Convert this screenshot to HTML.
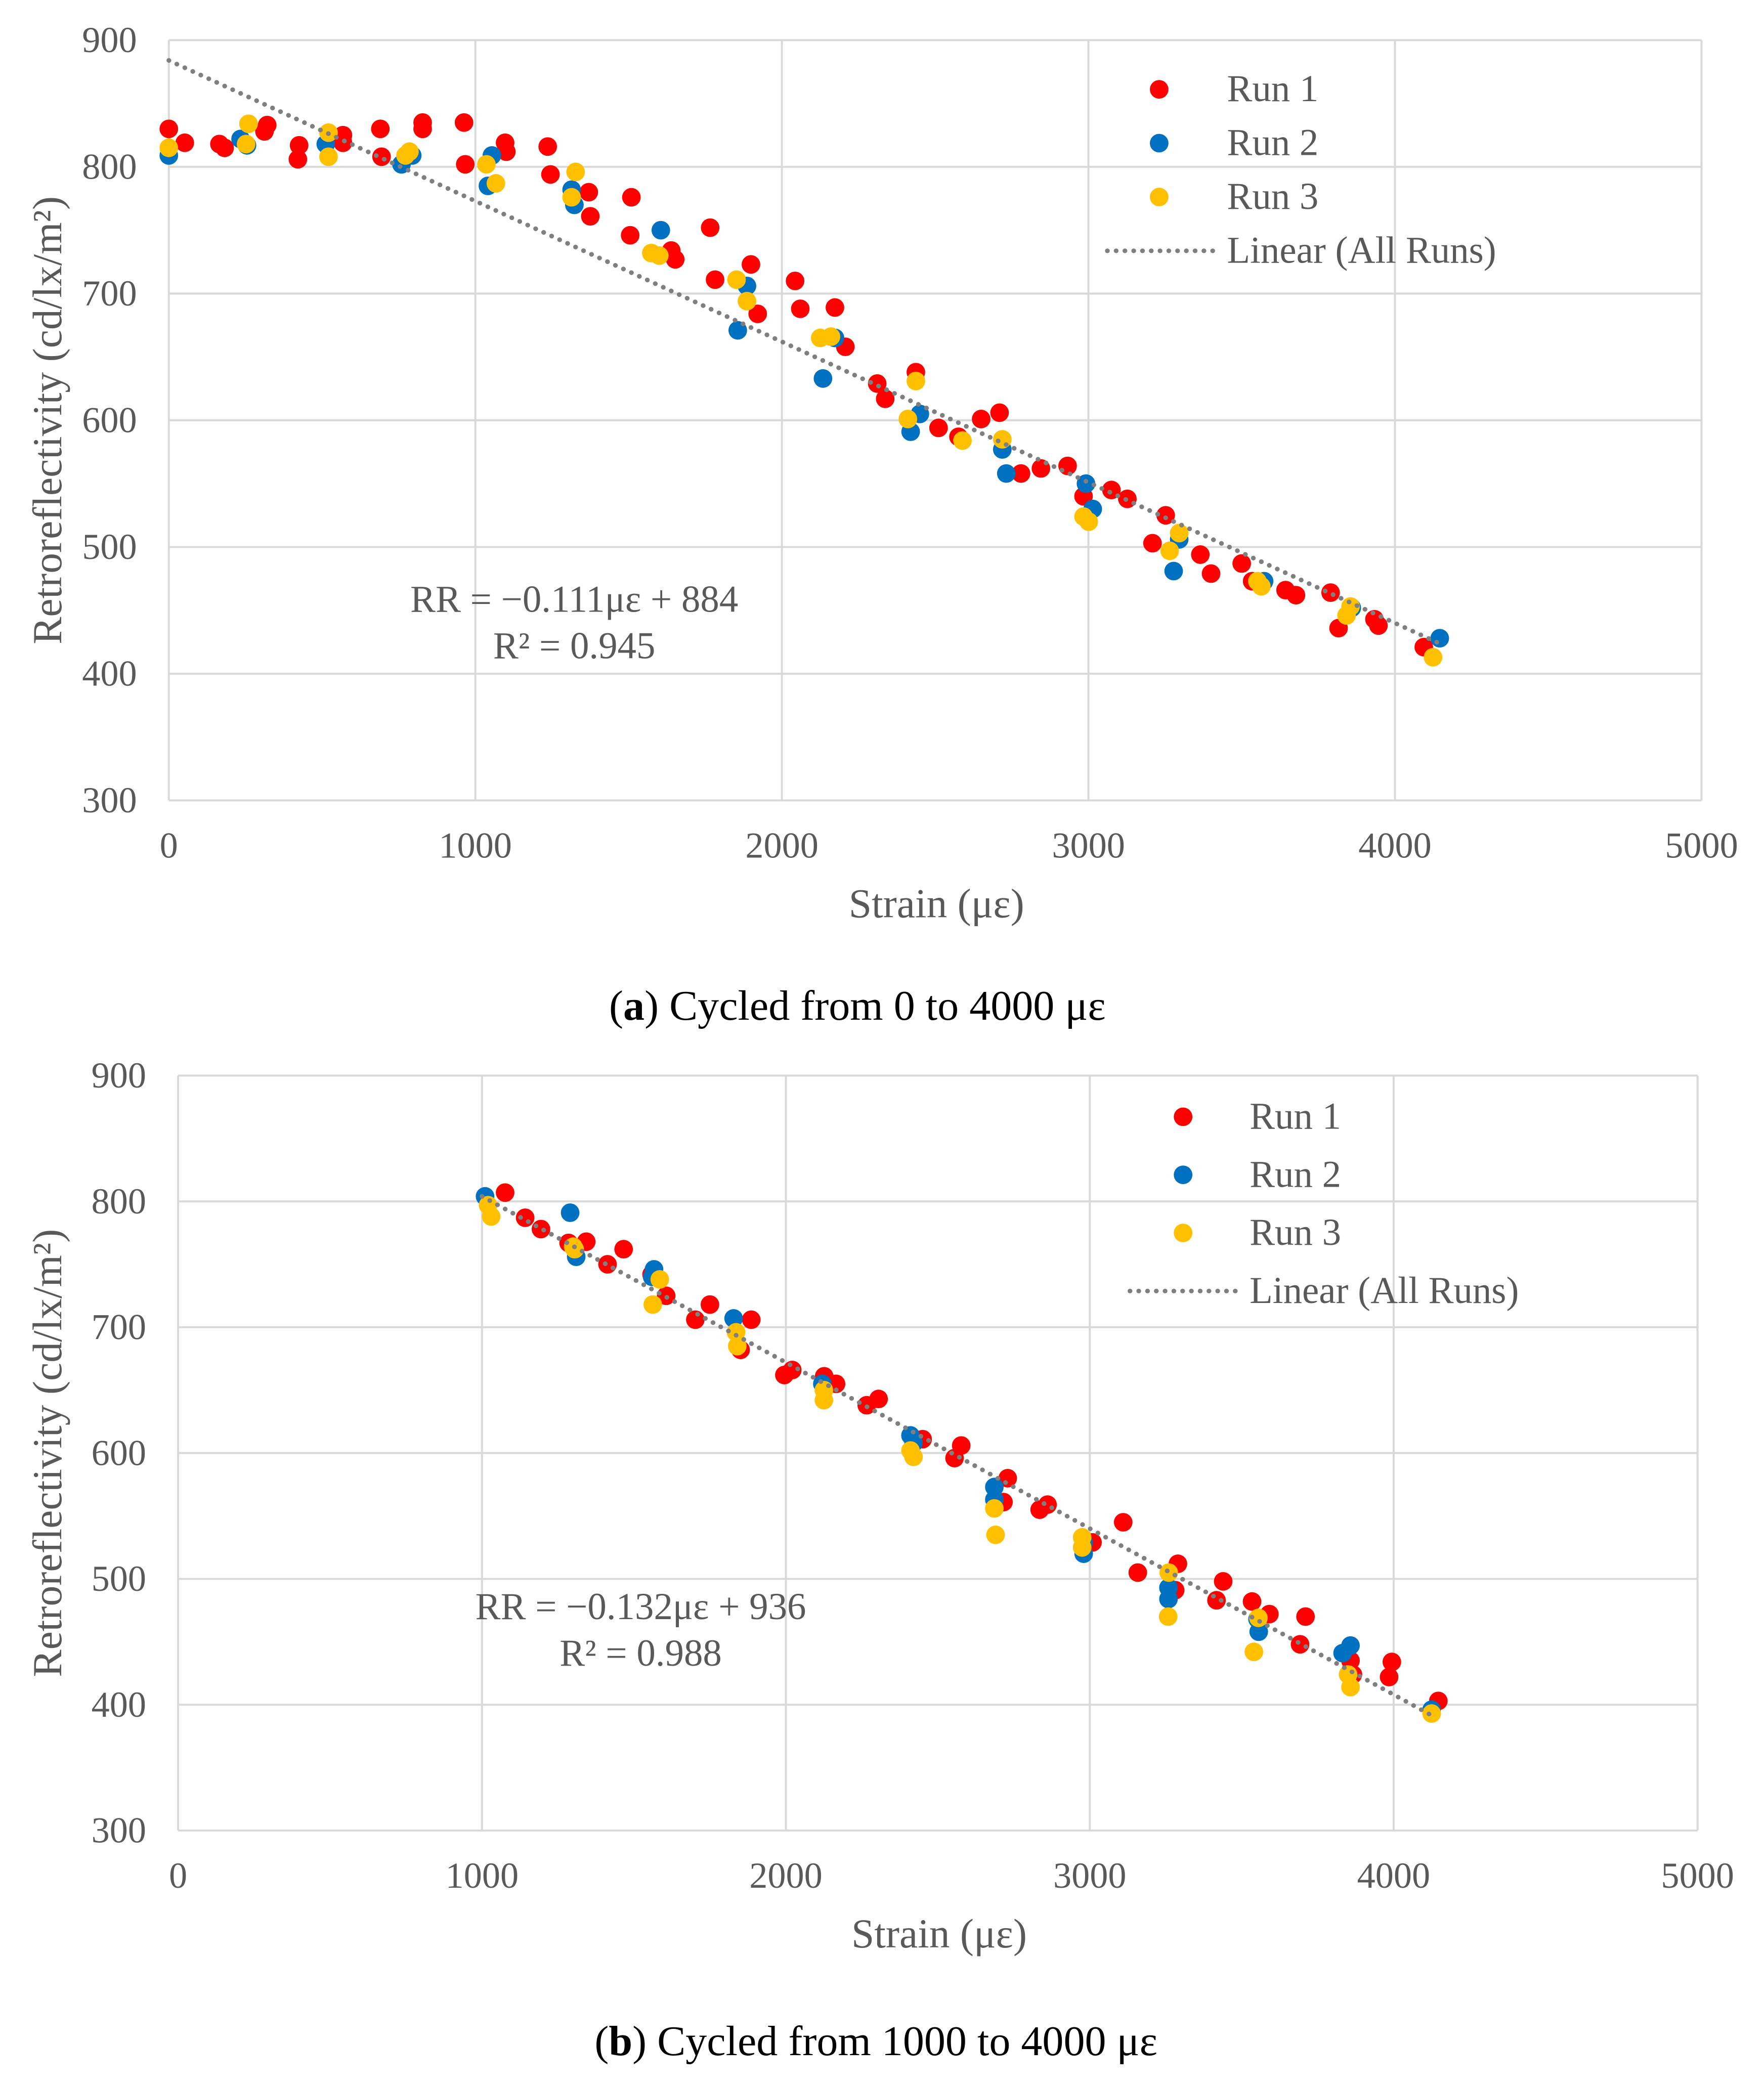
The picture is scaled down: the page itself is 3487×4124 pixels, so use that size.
<!DOCTYPE html>
<html><head><meta charset="utf-8"><style>
html,body{margin:0;padding:0;background:#fff;}
svg{display:block;}
text{font-family:"Liberation Serif",serif;}
</style></head><body>
<svg id="fig" width="3487" height="4124" viewBox="0 0 1327 1569" xmlns="http://www.w3.org/2000/svg">
<rect width="1327" height="1569" fill="#fff"/>
</svg>
<script>
// ---- Chart A data ----
const xTicks = [0,1000,2000,3000,4000,5000];
const yTicks = [300,400,500,600,700,800,900];
const seriesNames = ["Run 1","Run 2","Run 3"];
const a_run1 = [[0,830],[52,819],[165,818],[182,815],[321,833],[312,828],[425,817],[421,806],[568,825],[568,819],[690,830],[694,808],[828,835],[828,830],[963,835],[967,802],[1097,819],[1101,812],[1236,816],[1245,794],[1370,780],[1375,761],[1509,776],[1505,746],[1766,752],[1782,711],[1639,734],[1652,727],[1899,723],[1921,684],[2043,710],[2060,688],[2173,689],[2207,658],[2311,629],[2337,617],[2437,638],[2511,594],[2576,587],[2650,601],[2710,606],[2780,558],[2845,562],[2932,564],[2984,540],[3075,545],[3127,538],[3209,503],[3252,525],[3365,494],[3400,479],[3500,487],[3534,473],[3643,466],[3677,462],[3790,464],[3816,436],[3933,443],[3946,438],[4094,421]];
const a_run2 = [[0,809],[234,822],[255,817],[512,818],[759,802],[794,809],[1041,785],[1054,809],[1314,782],[1323,770],[1605,750],[1856,671],[1886,706],[2134,633],[2173,665],[2420,591],[2450,605],[2719,577],[2732,558],[2992,550],[3014,530],[3278,481],[3296,506],[3573,473],[3859,452],[4146,428]];
const a_run3 = [[0,815],[260,834],[252,818],[521,827],[521,808],[772,809],[785,812],[1036,802],[1067,787],[1327,796],[1314,776],[1574,732],[1600,730],[1852,711],[1886,694],[2125,665],[2160,666],[2411,601],[2437,631],[2589,584],[2719,585],[2984,524],[3001,520],[3265,497],[3296,511],[3551,473],[3564,469],[3842,446],[3855,453],[4124,413]];
const a_slope = -0.111, a_intercept = 884, a_range = [0,4150];
// ---- Chart B data ----
const b_run1 = [[1076,807],[1142,787],[1194,778],[1285,767],[1343,768],[1413,750],[1466,762],[1558,742],[1606,725],[1702,706],[1750,718],[1851,682],[1886,706],[1995,662],[2021,666],[2126,661],[2165,655],[2266,638],[2305,643],[2450,611],[2555,596],[2577,606],[2730,580],[2716,561],[2835,555],[2861,559],[3009,529],[3110,545],[3158,505],[3281,491],[3290,512],[3417,483],[3439,498],[3534,482],[3591,472],[3692,448],[3710,470],[3858,435],[3866,424],[3994,434],[3985,422],[4147,403]];
const b_run2 = [[1010,804],[1290,791],[1310,756],[1566,746],[1560,740],[1828,707],[2120,655],[2410,614],[2420,608],[2686,573],[2686,563],[2980,529],[2980,520],[3259,493],[3259,484],[3552,468],[3556,458],[3832,441],[3858,447],[4125,396]];
const b_run3 = [[1020,797],[1030,788],[1300,764],[1305,762],[1562,718],[1585,738],[1836,696],[1840,685],[2125,650],[2125,642],[2410,602],[2420,597],[2686,556],[2690,535],[2975,533],[2975,525],[3260,505],[3258,470],[3555,469],[3540,442],[3850,424],[3858,414],[4125,393]];
const b_slope = -0.132, b_intercept = 936, b_range = [1000,4130];
const colors = ["#ff0000","#0070c0","#ffc000"];

const NS = "http://www.w3.org/2000/svg";
const svg = document.getElementById("fig");
function mk(tag, attrs, parent, txt){
  const e = document.createElementNS(NS, tag);
  for (const k in attrs) e.setAttribute(k, attrs[k]);
  if (txt !== undefined) e.textContent = txt;
  (parent||svg).appendChild(e);
  return e;
}

function drawChart(cfg){
  const g = mk("g", {});
  
  
  const X = v => cfg.x0 + (v - 0) / 5000 * (cfg.x1 - cfg.x0);
  const Y = v => cfg.y0 + (900 - v) / 600 * (cfg.y1 - cfg.y0);
  xTicks.forEach(t => {
    const l = mk("line", {x1:X(t), x2:X(t), y1:cfg.y0, y2:cfg.y1, stroke:"#d9d9d9", "stroke-width":1.5}, g);
    
    
    const tx = mk("text", {x:X(t), y:cfg.y1+43, "text-anchor":"middle", "font-size":27.5, fill:"#595959"}, g, String(t));
    
    
  });
  yTicks.forEach(t => {
    const l = mk("line", {x1:cfg.x0, x2:cfg.x1, y1:Y(t), y2:Y(t), stroke:"#d9d9d9", "stroke-width":1.5}, g);
    
    
    const tx = mk("text", {x:cfg.x0-24, y:Y(t)+9, "text-anchor":"end", "font-size":27.5, fill:"#595959"}, g, String(t));
    
    
  });
  const runs = cfg.runs;
  runs.forEach((run, i) => {
    run.forEach(p => {
      const c = mk("circle", {cx:X(p[0]), cy:Y(p[1]), r:7, fill:colors[i]}, g);
      
      
    });
  });
  const tl = mk("line", {x1:X(cfg.range[0]), y1:Y(cfg.slope*cfg.range[0]+cfg.intercept), x2:X(cfg.range[1]), y2:Y(cfg.slope*cfg.range[1]+cfg.intercept), stroke:"#7f7f7f", "stroke-width":3.5, "stroke-dasharray":"0.1 6.5", "stroke-linecap":"round"}, g);
  
  
  // legend
  const lg = mk("g", {}, g);
  
  
  seriesNames.forEach((n, i) => {
    const yy = cfg.leg.y + i*cfg.leg.dy;
    const c = mk("circle", {cx:cfg.leg.x, cy:yy, r:7, fill:colors[i]}, lg);
    
    
    const t = mk("text", {x:cfg.leg.tx, y:yy+9, "font-size":28.5, fill:"#595959"}, lg, n);
    
    
  });
  const ly = cfg.leg.y + 3*cfg.leg.dy;
  const ll = mk("line", {x1:cfg.leg.tx-90, x2:cfg.leg.tx-9, y1:ly, y2:ly, stroke:"#7f7f7f", "stroke-width":3.5, "stroke-dasharray":"0.1 6.5", "stroke-linecap":"round"}, lg);
  
  
  const lt = mk("text", {x:cfg.leg.tx, y:ly+9, "font-size":28.5, fill:"#595959"}, lg, "Linear (All Runs)");
  
  
  // equation
  const e1 = mk("text", {x:cfg.eq.x, y:cfg.eq.y, "text-anchor":"middle", "font-size":28.5, fill:"#595959"}, g, cfg.eq.t1);
  
  
  const e2 = mk("text", {x:cfg.eq.x, y:cfg.eq.y+35, "text-anchor":"middle", "font-size":28.5, fill:"#595959"}, g, cfg.eq.t2);
  
  
  // axis titles
  const xt = mk("text", {x:(cfg.x0+cfg.x1)/2+1, y:cfg.y1+88, "text-anchor":"middle", "font-size":31, fill:"#595959"}, g, "Strain (με)");
  
  
  const cy = (cfg.y0+cfg.y1)/2;
  const yt = mk("text", {x:cy, y:cfg.ytx, "text-anchor":"middle", "font-size":31, fill:"#595959", transform:"translate(0 "+(cy)+") rotate(-90) translate("+(-cy)+" 0)"}, g, "Retroreflectivity (cd/lx/m²)");
  
  
  // caption
  const cap = mk("text", {x:cfg.cap.x, y:cfg.cap.y, "text-anchor":"middle", "font-size":32, fill:"#000"}, g);
  
  
  mk("tspan", {}, cap, "(");
  mk("tspan", {"font-weight":"bold"}, cap, cfg.cap.l);
  mk("tspan", {}, cap, ") " + cfg.cap.t);
}

drawChart({name:"chart-a", x0:127, x1:1280, y0:30, y1:602, runs:[a_run1,a_run2,a_run3], slope:a_slope, intercept:a_intercept, range:a_range,
  leg:{x:872, y:67, dy:40.5, tx:923}, eq:{x:432, y:460, t1:"RR = −0.111με + 884", t2:"R² = 0.945"}, ytx:46,
  cap:{x:645, y:767, l:"a", t:"Cycled from 0 to 4000 με"}});
drawChart({name:"chart-b", x0:134, x1:1277, y0:809, y1:1377, runs:[b_run1,b_run2,b_run3], slope:b_slope, intercept:b_intercept, range:b_range,
  leg:{x:890, y:840, dy:43.7, tx:940}, eq:{x:482, y:1218, t1:"RR = −0.132με + 936", t2:"R² = 0.988"}, ytx:46,
  cap:{x:659, y:1546, l:"b", t:"Cycled from 1000 to 4000 με"}});
</script>
</body></html>
